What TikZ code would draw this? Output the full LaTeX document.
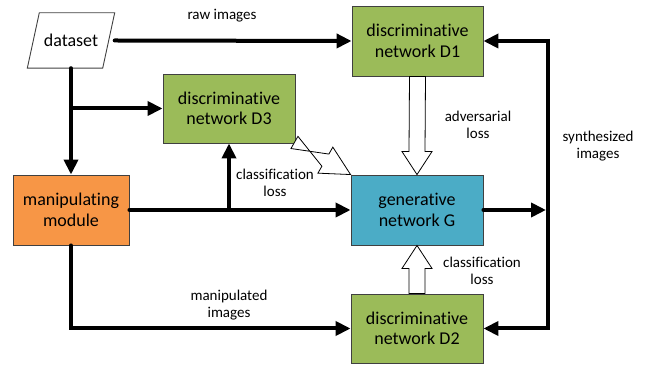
\documentclass[tikz,border=0pt]{standalone}
\usepackage{fontspec}
\setmainfont[Ligatures={NoCommon,NoRequired,NoContextual,NoRare}]{Carlito}
\usetikzlibrary{arrows.meta,calc}
\definecolor{dgreen}{HTML}{9BBB59}
\definecolor{morange}{HTML}{F79646}
\definecolor{gblue}{HTML}{4BACC6}
\definecolor{edge}{HTML}{404040}
\begin{document}
\begin{tikzpicture}[x=1pt,y=1pt,
  box/.style={draw=edge, line width=0.9pt, minimum width=132pt, minimum height=70pt,
    align=center, inner sep=0pt, font=\fontsize{18}{20.5}\selectfont},
  lbl/.style={align=center, inner sep=0pt, font=\fontsize{15}{16.5}\selectfont},
  flow/.style={line width=4pt, line cap=round, line join=miter,
    -{Triangle[length=15pt,width=14pt]}},
  bus/.style={line width=4pt, line cap=butt},
  hollow/.style={draw=black, fill=white, line width=0.8pt, line join=miter}]
\useasboundingbox (0,0) rectangle (647,366);

% nodes
\node[minimum width=87pt, minimum height=55pt, inner sep=0pt,
  font=\fontsize{18}{20.5}\selectfont] (ds) at (71,325.5) {dataset};
\draw[edge, line width=0.9pt] (ds.south west) -- ($(ds.north west)+(12,0)$)
  -- (ds.north east) -- ($(ds.south east)+(-12,0)$) -- cycle;
\node[box, fill=dgreen, minimum width=131pt] (D1) at (417.5,325) {discriminative\\network D1};
\node[box, fill=dgreen, minimum height=69pt] (D3) at (229,257.5) {discriminative\\network D3};
\node[box, fill=morange, minimum width=116pt] (mm) at (71,156) {manipulating\\module};
\node[box, fill=gblue] (G) at (417,156) {generative\\network G};
\node[box, fill=dgreen, minimum height=69pt] (D2) at (417,37.5) {discriminative\\network D2};

% helper coordinates
\coordinate (j1) at (ds.south |- D3.west);
\coordinate (j2) at (D3.south |- mm.east);
\coordinate (bt) at (548,325);
\coordinate (bb) at (548,37.5);
\coordinate (bg) at (546,156);

% thick connectors
\draw[flow] (ds.east) -- (D1.west);
\draw[flow] (ds.south) -- (mm.north);
\draw[flow] (j1) -- (D3.west);
\draw[flow] (mm.east) -- (G.west);
\draw[flow] (j2) -- (D3.south);
\draw[flow] (mm.south) |- (D2.west);
\draw[flow] (G.east) -- (bg);
\draw[bus] ($(bt)+(0,2)$) -- ($(bb)+(0,-2)$);
\draw[flow, line cap=butt] (bt) -- (D1.east);
\draw[flow, line cap=butt] (bb) -- (D2.east);

% hollow arrows
\draw[hollow] ($(D1.south)+(-8,0)$) -- ($(G.north)+(-8,23)$) -- ($(G.north)+(-15,23)$)
  -- (G.north) -- ($(G.north)+(15,23)$) -- ($(G.north)+(8,23)$) -- ($(D1.south)+(8,0)$) -- cycle;
\draw[hollow] ($(D2.north)+(-8,0)$) -- ($(G.south)+(-8,-23)$) -- ($(G.south)+(-15,-23)$)
  -- (G.south) -- ($(G.south)+(15,-23)$) -- ($(G.south)+(8,-23)$) -- ($(D2.north)+(8,0)$) -- cycle;
\coordinate (hA) at ($(D3.south east)+(-1,1)$);
\coordinate (hB) at (G.north west);
\coordinate (hC) at ($(hB)!29pt!(hA)$);
\draw[hollow] ($(hA)!7pt!90:(hB)$) -- ($(hC)!7pt!-90:(hB)$) -- ($(hC)!15pt!-90:(hB)$)
  -- (hB) -- ($(hC)!15pt!90:(hB)$) -- ($(hC)!7pt!90:(hB)$) -- ($(hA)!7pt!-90:(hB)$) -- cycle;

% labels
\node[lbl] (l1) at (222,350) {raw images};
\node[lbl] (l2) at (478,241) {adversarial\\loss};
\node[lbl] (l3) at (598,220) {synthesized\\images};
\node[lbl] (l4) at (275,183) {classification\\loss};
\node[lbl] (l5) at (482,95) {classification\\loss};
\node[lbl] (l6) at (229,61) {manipulated\\images};
\end{tikzpicture}
\end{document}
